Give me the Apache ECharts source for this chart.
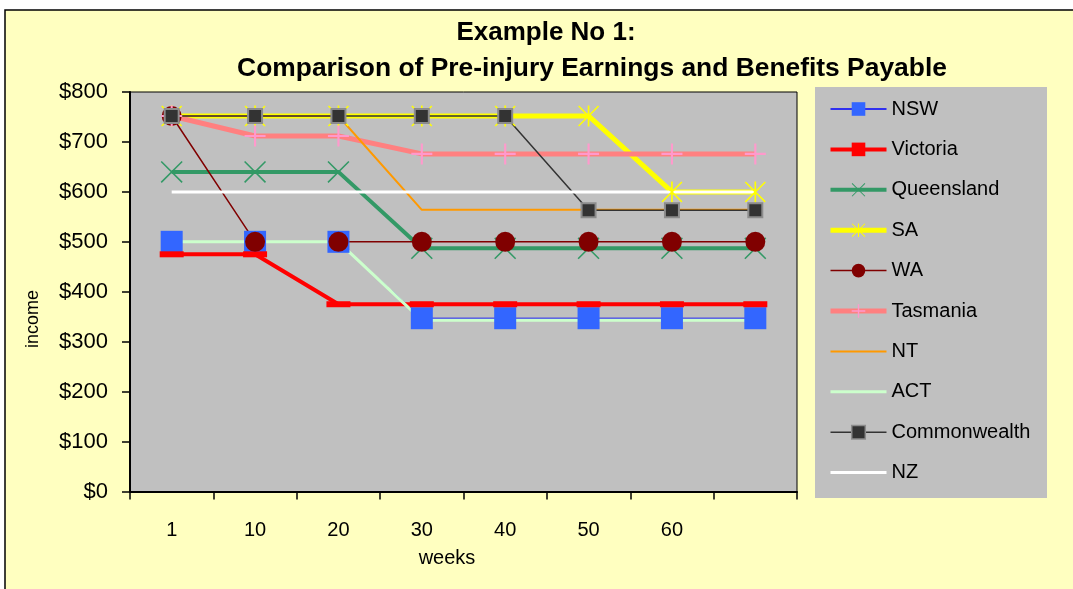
<!DOCTYPE html>
<html>
<head>
<meta charset="utf-8">
<script src="https://cdn.jsdelivr.net/npm/echarts@6/dist/echarts.min.js"></script>
<style>
  html, body { margin: 0; padding: 0; background: #ffffff; }
  #chart { width: 1073px; height: 589px; }
</style>
</head>
<body>
<div id="chart"></div>
<script>
// Weeks since injury (the last slot is unlabelled)
const weeks = ['1', '10', '20', '30', '40', '50', '60', ''];

// Weekly income by scheme
const NSW          = [500, 500, 500, 347, 347, 347, 347, 347];
const Victoria     = [475, 475, 375, 375, 375, 375, 375, 375];
const Queensland   = [640, 640, 640, 487, 487, 487, 487, 487];
const SA           = [752, 752, 752, 752, 752, 752, 600, 600];
const WA           = [752, 500, 500, 500, 500, 500, 500, 500];
const Tasmania     = [752, 712, 712, 676, 676, 676, 676, 676];
const NT           = [752, 752, 752, 564, 564, 564, 564, 564];
const ACT          = [500, 500, 500, 343, 343, 343, 343, 343];
const Commonwealth = [752, 752, 752, 752, 752, 563, 563, 563];
const NZ           = [600, 600, 600, 600, 600, 600, 600, 600];

const yTicks = { min: 0, max: 800, step: 100 };

// Marker shapes drawn as filled outlines
const crossPath = 'path://M0,1 L1,0 L20,19 L19,20 Z M19,0 L20,1 L1,20 L0,19 Z';
const starPath  = 'path://M0,1 L1,0 L20,19 L19,20 Z M19,0 L20,1 L1,20 L0,19 Z M9.2,0 L10.8,0 L10.8,20 L9.2,20 Z';
const plusPath  = 'path://M9,0 L11,0 L11,20 L9,20 Z M0,9 L20,9 L20,11 L0,11 Z';
const dashPath  = 'path://M0,0 L24,0 L24,6 L0,6 Z';

const schemes = [
  { name: 'NSW', data: NSW, line: '#0000FF', width: 1, symbol: 'rect', size: 22, fill: '#3366FF' },
  { name: 'Victoria', data: Victoria, line: '#FF0000', width: 4, symbol: dashPath, size: [24, 6], fill: '#FF0000' },
  { name: 'Queensland', data: Queensland, line: '#339966', width: 4, symbol: crossPath, size: 22, fill: '#339966' },
  { name: 'SA', data: SA, line: '#FFFF00', width: 5, symbol: starPath, size: 21, fill: '#FFFF00' },
  { name: 'WA', data: WA, line: '#800000', width: 1.5, symbol: 'circle', size: 20, fill: '#800000' },
  { name: 'Tasmania', data: Tasmania, line: '#FF8080', width: 5, symbol: plusPath, size: 21, fill: '#FF99CC' },
  { name: 'NT', data: NT, line: '#FF9900', width: 2, symbol: 'none' },
  { name: 'ACT', data: ACT, line: '#CCFFCC', width: 3, symbol: 'none' },
  { name: 'Commonwealth', data: Commonwealth, line: '#333333', width: 1.5, symbol: 'rect', size: 14, fill: '#333333', border: '#8C8C8C', borderWidth: 2 },
  { name: 'NZ', data: NZ, line: '#FFFFFF', width: 3, symbol: 'none' }
];

const FONT = "'Liberation Sans', Arial, sans-serif";

// All lines first, then all markers on top of every line
const lineSeries = schemes.map(s => ({
  name: s.name,
  type: 'line',
  data: s.data,
  z: 2,
  silent: true,
  showSymbol: false,
  symbol: s.symbol === 'none' ? 'circle' : s.symbol,
  symbolSize: s.size || 10,
  color: s.fill || s.line,
  itemStyle: {
    color: s.fill || s.line,
    borderColor: s.border || s.fill || s.line,
    borderWidth: s.borderWidth || 0
  },
  lineStyle: { color: s.line, width: s.width },
  emphasis: { disabled: true }
}));

const markerSeries = schemes.filter(s => s.symbol !== 'none').map(s => ({
  name: s.name,
  type: 'line',
  data: s.data,
  z: 3,
  silent: true,
  showSymbol: true,
  showAllSymbol: true,
  symbol: s.symbol,
  symbolSize: s.size,
  itemStyle: {
    color: s.fill,
    borderColor: s.border || s.fill,
    borderWidth: s.borderWidth || 0
  },
  lineStyle: { width: 0, opacity: 0 },
  emphasis: { disabled: true }
}));

// Legend entries: line plus marker (markerless schemes show the line only)
const legendItems = schemes.map(s => ({
  name: s.name,
  lineStyle: { color: s.line, width: Math.max(s.width, 1.5) },
  itemStyle: s.symbol === 'none'
    ? { opacity: 0 }
    : { color: s.fill, borderColor: s.border || s.fill, borderWidth: s.borderWidth ? 1.5 : 0 }
}));

const chart = echarts.init(document.getElementById('chart'), null, { renderer: 'canvas' });

chart.setOption({
  animation: false,
  backgroundColor: 'transparent',
  textStyle: { fontFamily: FONT },
  graphic: [
    {
      type: 'rect', z: -10, silent: true,
      shape: { x: 5, y: 10, width: 1090, height: 600 },
      style: { fill: '#FFFFC0', stroke: '#000000', lineWidth: 1.5 }
    },
    {
      type: 'rect', z: -9, silent: true,
      shape: { x: 815, y: 87, width: 232, height: 411 },
      style: { fill: '#C0C0C0' }
    },
    {
      type: 'text', silent: true,
      x: 33, y: 319, rotation: Math.PI / 2,
      style: { text: 'income', font: '18px ' + FONT, fill: '#000', align: 'center', verticalAlign: 'middle' }
    },
    {
      type: 'text', silent: true,
      x: 447, y: 558,
      style: { text: 'weeks', font: '20px ' + FONT, fill: '#000', align: 'center', verticalAlign: 'middle' }
    }
  ],
  title: [
    {
      text: 'Example No 1:',
      left: 546, top: 20, textAlign: 'center', padding: 0,
      textStyle: { fontFamily: FONT, fontSize: 26, fontWeight: 'bold', color: '#000' }
    },
    {
      text: 'Comparison of Pre-injury Earnings and Benefits Payable',
      left: 592, top: 56, textAlign: 'center', padding: 0,
      textStyle: { fontFamily: FONT, fontSize: 26.4, fontWeight: 'bold', color: '#000' }
    }
  ],
  legend: {
    orient: 'vertical',
    left: 828,
    top: 99,
    padding: 0,
    itemWidth: 56,
    itemHeight: 17,
    itemGap: 20.4,
    selectedMode: false,
    data: legendItems,
    textStyle: { fontFamily: FONT, fontSize: 20, color: '#000' }
  },
  grid: {
    left: 130, right: 276, top: 92, bottom: 97.5,
    show: true,
    backgroundColor: '#C0C0C0',
    borderColor: '#000000',
    borderWidth: 1
  },
  xAxis: {
    type: 'category',
    data: weeks,
    boundaryGap: true,
    axisLine: { show: true, onZero: false, lineStyle: { color: '#000', width: 2 } },
    axisTick: { show: true, inside: false, length: 8, alignWithLabel: false, interval: 0, lineStyle: { color: '#000', width: 1.5 } },
    axisLabel: { margin: 29, interval: 0, color: '#000', fontSize: 20, fontFamily: FONT },
    splitLine: { show: false }
  },
  yAxis: {
    type: 'value',
    min: yTicks.min, max: yTicks.max, interval: yTicks.step,
    axisLine: { show: true, lineStyle: { color: '#000', width: 2 } },
    axisTick: { show: true, inside: false, length: 8, lineStyle: { color: '#000', width: 1.5 } },
    axisLabel: { margin: 22, color: '#000', fontSize: 22, fontFamily: FONT, formatter: v => '$' + v },
    splitLine: { show: false }
  },
  series: lineSeries.concat(markerSeries)
});
</script>
</body>
</html>
